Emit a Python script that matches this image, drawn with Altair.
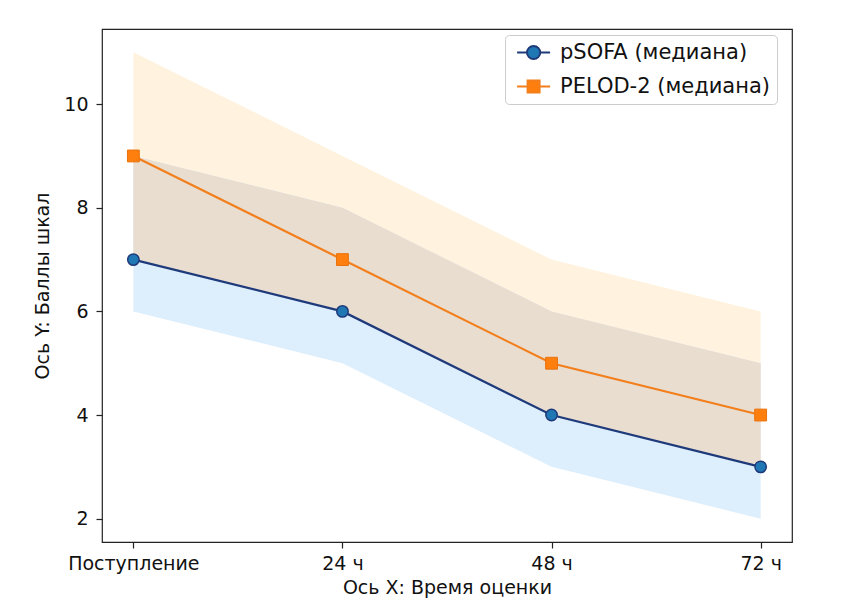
import altair as alt
import pandas as pd

times = ["Поступление", "24 ч", "48 ч", "72 ч"]
series_names = ["pSOFA (медиана)", "PELOD-2 (медиана)"]

psofa_med = [7, 6, 4, 3]
psofa_lo = [6, 5, 3, 2]
psofa_hi = [9, 8, 6, 5]

pelod_med = [9, 7, 5, 4]
pelod_lo = [7, 6, 4, 3]
pelod_hi = [11, 9, 7, 6]

y_ticks = [2, 4, 6, 8, 10]

rows = []
for i, t in enumerate(times):
    rows.append({"time": t, "series": series_names[0], "med": psofa_med[i],
                 "lo": psofa_lo[i], "hi": psofa_hi[i]})
for i, t in enumerate(times):
    rows.append({"time": t, "series": series_names[1], "med": pelod_med[i],
                 "lo": pelod_lo[i], "hi": pelod_hi[i]})
df = pd.DataFrame(rows)

# overlap of the two bands (derived from the band arrays)
ov = pd.DataFrame({
    "time": times,
    "lo": [max(a, b) for a, b in zip(psofa_lo, pelod_lo)],
    "hi": [min(a, b) for a, b in zip(psofa_hi, pelod_hi)],
})

FONT = "DejaVu Sans"
x_enc = alt.X("time:O", sort=times, scale=alt.Scale(type="point", padding=0.15),
              axis=alt.Axis(title="Ось X: Время оценки", labelAngle=0))
y_scale = alt.Scale(domain=[1.55, 11.45], nice=False, zero=False)
y_axis = alt.Axis(title="Ось Y: Баллы шкал", values=y_ticks)
y_enc = alt.Y("med:Q", scale=y_scale, axis=y_axis)

base = alt.Chart(df)
p_only = alt.datum.series == series_names[0]
e_only = alt.datum.series == series_names[1]

band_e = base.transform_filter(e_only).mark_area(color="#fff3df", opacity=1).encode(
    x=x_enc, y=alt.Y("lo:Q", scale=y_scale, axis=y_axis), y2="hi:Q")
band_p = base.transform_filter(p_only).mark_area(color="#ddeefc", opacity=1).encode(
    x=x_enc, y=alt.Y("lo:Q", scale=y_scale), y2="hi:Q")
band_ov = alt.Chart(ov).mark_area(color="#e9ddd0", opacity=1).encode(
    x=x_enc, y=alt.Y("lo:Q", scale=y_scale), y2="hi:Q")

line_p = base.transform_filter(p_only).mark_line(
    color="#1f3a7a", strokeWidth=2.2).encode(x=x_enc, y=y_enc)
line_e = base.transform_filter(e_only).mark_line(
    color="#f27f1b", strokeWidth=2.2).encode(x=x_enc, y=y_enc)

pts_p = base.transform_filter(p_only).mark_point(
    shape="circle", filled=True, fill="#1f77b4", stroke="#1f3a7a", strokeWidth=1.5,
    size=130, opacity=1).encode(x=x_enc, y=y_enc)
pts_e = base.transform_filter(e_only).mark_point(
    shape="square", filled=True, fill="#ff7f0e", stroke="#e8720c", strokeWidth=1,
    size=140, opacity=1).encode(x=x_enc, y=y_enc)

circle_path = ("M-1.8,0L1.5,0M5.9,0L9.2,0"
               "M1.5,0A2.2,2.2,0,1,1,5.9,0A2.2,2.2,0,1,1,1.5,0Z")
square_path = "M-1.8,0L1.7,0M5.7,0L9.2,0M1.7,-2L5.7,-2L5.7,2L1.7,2Z"

leg = alt.Legend(title=None, orient="none", legendX=403, legendY=6,
                 symbolSize=36, symbolStrokeWidth=2, symbolOpacity=1,
                 labelFont=FONT, labelFontSize=21, labelColor="#111111",
                 labelLimit=400,
                 labelOffset=27, rowPadding=11, padding=7,
                 strokeColor="#cccccc", fillColor="#ffffff", cornerRadius=4)

legend_layer = base.mark_point(filled=True, opacity=0).encode(
    x=x_enc, y=y_enc,
    shape=alt.Shape("series:N", sort=series_names,
                    scale=alt.Scale(domain=series_names, range=[circle_path, square_path]),
                    legend=leg),
    fill=alt.Fill("series:N", sort=series_names,
                  scale=alt.Scale(domain=series_names, range=["#1f77b4", "#ff7f0e"]),
                  legend=leg),
    stroke=alt.Stroke("series:N", sort=series_names,
                      scale=alt.Scale(domain=series_names, range=["#1f3a7a", "#f27f1b"]),
                      legend=leg),
)

chart = alt.layer(band_e, band_p, band_ov, legend_layer, line_p, line_e, pts_p, pts_e).properties(
    width=690, height=513,
    autosize=alt.AutoSizeParams(type="none"),
    padding={"left": 94, "top": 21, "right": 50, "bottom": 61},
    background="#ffffff",
).configure_view(
    stroke="#222222", strokeWidth=1.2
).configure_axis(
    grid=False, domain=False,
    labelFont=FONT, titleFont=FONT, labelFontSize=19, titleFontSize=19,
    labelColor="#111111", titleColor="#111111", titleFontWeight="normal",
    tickColor="#222222", tickSize=6, tickWidth=1.2,
).configure_axisX(
    labelPadding=6, titlePadding=5,
).configure_axisY(
    labelPadding=8, titlePadding=11,
).configure_legend(
    labelLimit=400
)

chart.save("out.html", embed_options={"renderer": "svg", "actions": False})
